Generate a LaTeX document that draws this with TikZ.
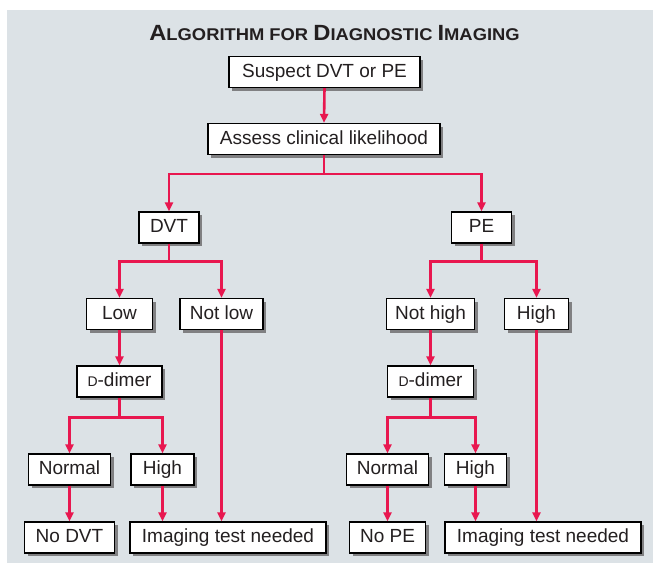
\documentclass[tikz,border=0pt]{standalone}
\usepackage{fontspec}
\usepackage{graphicx}
\setmainfont{Liberation Sans}
\usetikzlibrary{arrows.meta,shadows}
\definecolor{bgc}{RGB}{220,226,230}
\definecolor{arrc}{RGB}{232,23,79}
\definecolor{txtc}{RGB}{35,31,32}
\definecolor{shadc}{RGB}{128,128,130}
\newcommand{\smD}{{\fontsize{14}{16}\selectfont D}}
\newcommand{\tbig}[1]{{\fontsize{22}{26}\selectfont #1}}
\newcommand{\tsm}[1]{{\fontsize{17}{20}\selectfont #1}}
\begin{document}
\begin{tikzpicture}[x=1pt,y=-1pt,
  box/.style={draw=black,line width=1.3pt,fill=white,text=txtc,
    font=\fontsize{19}{22}\selectfont,inner sep=0pt,
    minimum height=31pt,text height=14pt,text depth=4pt,
    drop shadow={shadow xshift=3pt,shadow yshift=-3pt,fill=shadc,opacity=1}},
  arr/.style={draw=arrc,line width=2.6pt,-{Triangle[length=9pt,width=8pt]}},
  ln/.style={draw=arrc,line width=2.6pt}]
\useasboundingbox (0,0) rectangle (653,563);
\fill[bgc] (7,10) rectangle (653,563);
\node[anchor=base,text=txtc,font=\bfseries] (title) at (334.5,40)
  {\scalebox{1.08}[1]{\tbig{A}\tsm{LGORITHM FOR }\tbig{D}\tsm{IAGNOSTIC }\tbig{I}\tsm{MAGING}}};
\node[box,minimum width=191pt] (suspect) at (324.5,72) {Suspect DVT or PE};
\node[box,minimum width=232pt] (assess) at (324,139) {Assess clinical likelihood};
\node[box,minimum width=60pt] (dvt) at (169,227.5) {DVT};
\node[box,minimum width=60pt] (pe) at (481.5,227.5) {PE};
\node[box,minimum width=66pt] (low) at (119.5,314) {Low};
\node[box,minimum width=83pt] (notlow) at (221.5,314) {Not low};
\node[box,minimum width=88pt] (nothigh) at (430.5,314) {Not high};
\node[box,minimum width=64pt] (highpe) at (536.5,314) {High};
\node[box,minimum width=85pt] (dd1) at (119.5,381.5) {\smD-dimer};
\node[box,minimum width=86pt] (dd2) at (430.5,381.5) {\smD-dimer};
\node[box,minimum width=82pt] (normal1) at (69.5,469.5) {Normal};
\node[box,minimum width=63pt] (high1) at (162.5,469.5) {High};
\node[box,minimum width=82pt] (normal2) at (387.5,469.5) {Normal};
\node[box,minimum width=62pt] (high2) at (475.5,469.5) {High};
\node[box,minimum width=90pt] (nodvt) at (69.5,537.5) {No DVT};
\node[box,minimum width=196pt] (img1) at (228,537.5) {Imaging test needed};
\node[box,minimum width=76pt] (nope) at (387.5,537.5) {No PE};
\node[box,minimum width=196pt] (img2) at (543,537.5) {Imaging test needed};
% connectors
\draw[arr] (suspect.south) -- (assess.north);
\draw[ln] (assess.south) -- ++(0,19) coordinate (s1);
\draw[arr] (s1) -| (dvt.north);
\draw[arr] (s1) -| (pe.north);
\draw[ln] (dvt.south) -- ++(0,18) coordinate (s2);
\draw[arr] (s2) -| (low.north);
\draw[arr] (s2) -| (notlow.north);
\draw[ln] (pe.south) -- ++(0,18) coordinate (s3);
\draw[arr] (s3) -| (nothigh.north);
\draw[arr] (s3) -| (highpe.north);
\draw[arr] (low.south) -- (dd1.north);
\draw[arr] (nothigh.south) -- (dd2.north);
\draw[ln] (dd1.south) -- ++(0,20) coordinate (s4);
\draw[arr] (s4) -| (normal1.north);
\draw[arr] (s4) -| (high1.north);
\draw[ln] (dd2.south) -- ++(0,20) coordinate (s5);
\draw[arr] (s5) -| (normal2.north);
\draw[arr] (s5) -| (high2.north);
\draw[arr] (normal1.south) -- (nodvt.north -| normal1.south);
\draw[arr] (high1.south) -- (img1.north -| high1.south);
\draw[arr] (notlow.south) -- (img1.north -| notlow.south);
\draw[arr] (normal2.south) -- (nope.north -| normal2.south);
\draw[arr] (high2.south) -- (img2.north -| high2.south);
\draw[arr] (highpe.south) -- (img2.north -| highpe.south);
\end{tikzpicture}
\end{document}
